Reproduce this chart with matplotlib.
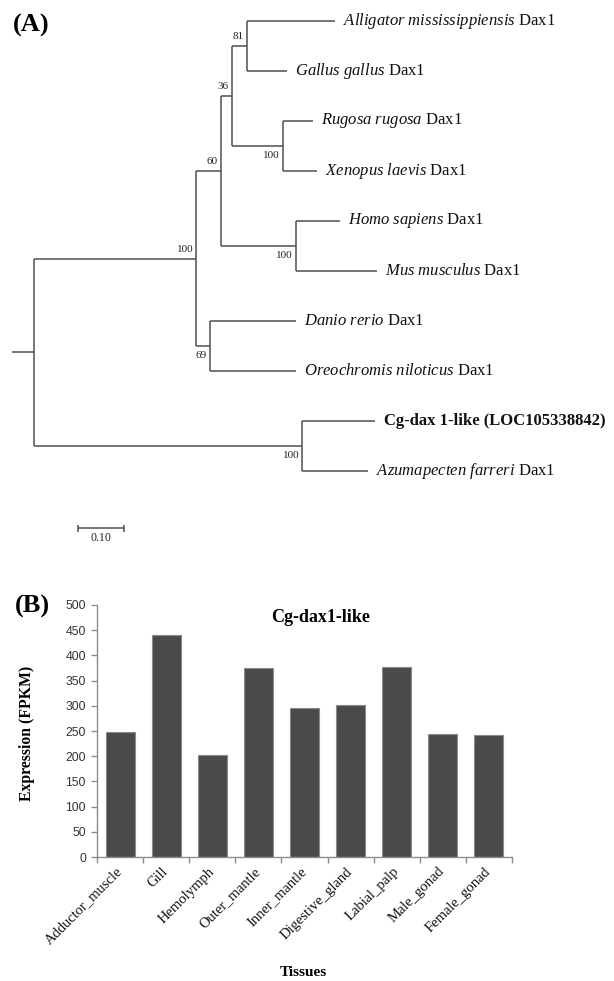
import matplotlib
matplotlib.use("Agg")
import matplotlib.pyplot as plt
from matplotlib.ticker import FixedLocator

# ---------------- data ----------------
# Phylogenetic tree (branch lengths in substitutions/site)
tip_italic = ["Alligator mississippiensis", "Gallus gallus", "Rugosa rugosa",
              "Xenopus laevis", "Homo sapiens", "Mus musculus", "Danio rerio",
              "Oreochromis niloticus", "", "Azumapecten farreri"]
tip_plain = ["Dax1", "Dax1", "Dax1", "Dax1", "Dax1", "Dax1", "Dax1", "Dax1",
             "Cg-dax 1-like (LOC105338842)", "Dax1"]
tip_parent = ["n81", "n81", "nRX", "nRX", "nHM", "nHM", "n69", "n69", "nCg", "nCg"]
tip_length = [0.191, 0.087, 0.065, 0.074, 0.096, 0.176, 0.187, 0.187, 0.159, 0.143]

node_names = ["root", "n100", "n60", "n36", "n81", "nRX", "nHM", "n69", "nCg"]
node_parent = [None, "root", "n100", "n60", "n36", "n36", "n60", "n100", "root"]
node_length = [0.048, 0.352, 0.054, 0.024, 0.033, 0.111, 0.163, 0.030, 0.583]
node_support = [None, 100, 60, 36, 81, 100, 100, 69, 100]
scale_length = 0.10

# Expression bar chart
tissues = ["Adductor_muscle", "Gill", "Hemolymph", "Outer_mantle", "Inner_mantle",
           "Digestive_gland", "Labial_palp", "Male_gonad", "Female_gonad"]
fpkm = [248, 440, 203, 375, 296, 302, 376, 245, 243]
y_ticks = [0, 50, 100, 150, 200, 250, 300, 350, 400, 450, 500]

# ---------------- style ----------------
W, H = 614, 981
plt.rcParams["font.family"] = ["Liberation Serif", "DejaVu Serif"]
plt.rcParams["mathtext.fontset"] = "custom"
plt.rcParams["mathtext.it"] = "Liberation Serif:italic"
plt.rcParams["mathtext.rm"] = "Liberation Serif"
plt.rcParams["mathtext.bf"] = "Liberation Serif:bold"

fig = plt.figure(figsize=(W / 100, H / 100), dpi=100)
fig.patch.set_facecolor("white")

# ---------------- Panel A: tree ----------------
axT = fig.add_axes([0, 1 - 560 / H, 1, 560 / H])
axT.axis("off")
px_per_unit = 460.0
root_px = 34.0
axT.set_xlim(-root_px / px_per_unit, (W - root_px) / px_per_unit)
axT.set_ylim((560 - 21) / 50.0, -21 / 50.0)

line_kw = dict(color="#505050", lw=1.1, solid_capstyle="butt")

# compute positions
xpos, ypos = {}, {}
children = {n: [] for n in node_names}
for i, p in enumerate(tip_parent):
    children[p].append(("tip", i))
for n, p in zip(node_names, node_parent):
    if p is not None:
        children[p].append(("node", n))

def place(name, x):
    xpos[name] = x
    ys = []
    kids = children[name]
    for kind, k in kids:
        if kind == "tip":
            xt = x + tip_length[k]
            xpos[("tip", k)] = xt
            ypos[("tip", k)] = k
            ys.append(k)
        else:
            idx = node_names.index(k)
            place(k, x + node_length[idx])
            ys.append(ypos[k])
    ypos[name] = (min(ys) + max(ys)) / 2.0

place("root", 0.0)

# root stub
axT.plot([-node_length[0], 0], [ypos["root"]] * 2, **line_kw)
# branches
for name in node_names:
    kids = children[name]
    kid_keys = [("tip", k) if kind == "tip" else k for kind, k in kids]
    kys = [ypos[k] for k in kid_keys]
    axT.plot([xpos[name]] * 2, [min(kys), max(kys)], **line_kw)
    for k in kid_keys:
        axT.plot([xpos[name], xpos[k]], [ypos[k]] * 2, **line_kw)

# support values
label_above = {"n100": True, "n60": True, "n36": True, "n81": True,
               "nRX": False, "nHM": False, "n69": False, "nCg": False}
for name, sup in zip(node_names, node_support):
    if sup is None:
        continue
    dy = 6.5 if label_above[name] else -6.5
    axT.annotate(str(sup), (xpos[name], ypos[name]), xytext=(-2, dy),
                 textcoords="offset points", ha="right", va="center",
                 fontsize=8, color="#222222")

# tip labels
for i in range(len(tip_italic)):
    it = tip_italic[i]
    if it:
        txt = r"$\mathit{" + it.replace(" ", r"\ ") + "}$ " + tip_plain[i]
        axT.annotate(txt, (xpos[("tip", i)], i), xytext=(6, 0),
                     textcoords="offset points", ha="left", va="center",
                     fontsize=12, color="#111111")
    else:
        axT.annotate(tip_plain[i], (xpos[("tip", i)], i), xytext=(6, 0),
                     textcoords="offset points", ha="left", va="center",
                     fontsize=12, fontweight="bold", color="#111111")

# scale bar
sb_x0 = (78 - root_px) / px_per_unit
sb_y = (528 - 21) / 50.0
axT.plot([sb_x0, sb_x0 + scale_length], [sb_y, sb_y], **line_kw)
for xx in (sb_x0, sb_x0 + scale_length):
    axT.plot([xx, xx], [sb_y - 0.07, sb_y + 0.07], **line_kw)
axT.annotate(f"{scale_length:.2f}", (sb_x0 + scale_length / 2, sb_y),
             xytext=(0, -7), textcoords="offset points", ha="center",
             va="center", fontsize=8.6, color="#222222")

fig.text(13 / W, 1 - 25 / H, "(A)", fontsize=19, fontweight="bold",
         ha="left", va="center")

# ---------------- Panel B: bar chart ----------------
axB = fig.add_axes([97 / W, 1 - 857 / H, 415 / W, 252 / H])
x = list(range(len(tissues)))
axB.bar(x, fpkm, width=0.63, color="#4a4a4a", edgecolor="#8a8a8a", linewidth=0.8)
axB.set_xlim(-0.5, len(tissues) - 0.5)
axB.set_ylim(0, 500)
axB.set_yticks(y_ticks)
for sp in ("top", "right"):
    axB.spines[sp].set_visible(False)
for sp in ("left", "bottom"):
    axB.spines[sp].set_color("#8c8c8c")
    axB.spines[sp].set_linewidth(1.0)
axB.tick_params(axis="y", direction="out", length=4, width=1.0, color="#8c8c8c",
                pad=4, labelsize=8.8, labelcolor="#333333")
for lab in axB.get_yticklabels():
    lab.set_fontfamily(["Liberation Sans Narrow", "Liberation Sans", "DejaVu Sans"])
axB.set_xticks(x)
axB.set_xticklabels(tissues, rotation=45, ha="right", va="center",
                    rotation_mode="anchor", fontsize=10.5, color="#111111")
axB.tick_params(axis="x", which="major", length=0, pad=9)
axB.xaxis.set_minor_locator(FixedLocator([i - 0.5 for i in range(len(tissues) + 1)]))
axB.tick_params(axis="x", which="minor", direction="out", length=4, width=1.0,
                color="#8c8c8c")

axB.text((321 - 97) / 415, (857 - 618) / 252, "Cg-dax1-like", transform=axB.transAxes,
         ha="center", va="center", fontsize=13, fontweight="bold")

fig.text(27 / W, 1 - 733 / H, "Expression (FPKM)", rotation=90, fontsize=11.3,
         fontweight="bold", ha="center", va="center")
fig.text(303 / W, 1 - 972 / H, "Tissues", fontsize=11, fontweight="bold",
         ha="center", va="center")
fig.text(15 / W, 1 - 606 / H, "(B)", fontsize=19, fontweight="bold",
         ha="left", va="center")

fig.savefig("out.png", dpi=100, facecolor="white")
